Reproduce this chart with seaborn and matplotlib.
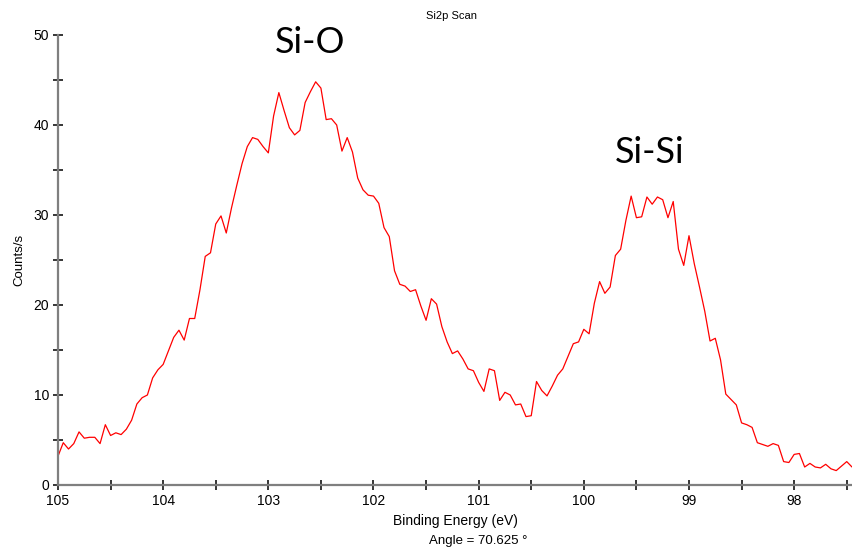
import numpy as np
import pandas as pd
import matplotlib
matplotlib.use("Agg")
import matplotlib.pyplot as plt
import seaborn as sns
from matplotlib.ticker import MultipleLocator

# Si 2p region scan: binding energy (eV) and count rate (counts/s)
binding_energy = [
    105.00, 104.95, 104.90, 104.85, 104.80, 104.75, 104.70, 104.65, 104.60, 104.55,
    104.50, 104.45, 104.40, 104.35, 104.30, 104.25, 104.20, 104.15, 104.10, 104.05,
    104.00, 103.95, 103.90, 103.85, 103.80, 103.75, 103.70, 103.65, 103.60, 103.55,
    103.50, 103.45, 103.40, 103.35, 103.30, 103.25, 103.20, 103.15, 103.10, 103.05,
    103.00, 102.95, 102.90, 102.85, 102.80, 102.75, 102.70, 102.65, 102.60, 102.55,
    102.50, 102.45, 102.40, 102.35, 102.30, 102.25, 102.20, 102.15, 102.10, 102.05,
    102.00, 101.95, 101.90, 101.85, 101.80, 101.75, 101.70, 101.65, 101.60, 101.55,
    101.50, 101.45, 101.40, 101.35, 101.30, 101.25, 101.20, 101.15, 101.10, 101.05,
    101.00, 100.95, 100.90, 100.85, 100.80, 100.75, 100.70, 100.65, 100.60, 100.55,
    100.50, 100.45, 100.40, 100.35, 100.30, 100.25, 100.20, 100.15, 100.10, 100.05,
    100.00, 99.95, 99.90, 99.85, 99.80, 99.75, 99.70, 99.65, 99.60, 99.55,
    99.50, 99.45, 99.40, 99.35, 99.30, 99.25, 99.20, 99.15, 99.10, 99.05,
    99.00, 98.95, 98.90, 98.85, 98.80, 98.75, 98.70, 98.65, 98.60, 98.55,
    98.50, 98.45, 98.40, 98.35, 98.30, 98.25, 98.20, 98.15, 98.10, 98.05,
    98.00, 97.95, 97.90, 97.85, 97.80, 97.75, 97.70, 97.65, 97.60, 97.55,
    97.50, 97.45,
]
counts = [
    3.2, 4.7, 4.0, 4.6, 5.9, 5.2, 5.3, 5.3, 4.6, 6.7,
    5.5, 5.8, 5.6, 6.2, 7.2, 9.0, 9.7, 10.0, 11.9, 12.8,
    13.4, 14.9, 16.4, 17.2, 16.1, 18.5, 18.5, 21.7, 25.4, 25.8,
    29.0, 29.9, 28.0, 30.8, 33.3, 35.7, 37.6, 38.6, 38.4, 37.6,
    36.9, 41.0, 43.6, 41.6, 39.7, 38.9, 39.4, 42.5, 43.7, 44.8,
    44.1, 40.6, 40.7, 40.0, 37.1, 38.6, 37.0, 34.1, 32.8, 32.2,
    32.1, 31.3, 28.6, 27.6, 23.8, 22.3, 22.1, 21.5, 21.7, 19.9,
    18.3, 20.7, 20.1, 17.6, 15.9, 14.6, 14.9, 14.0, 12.9, 12.7,
    11.4, 10.4, 12.9, 12.7, 9.4, 10.3, 10.0, 8.9, 9.0, 7.6,
    7.7, 11.5, 10.5, 9.9, 11.0, 12.2, 12.9, 14.3, 15.7, 15.9,
    17.3, 16.8, 20.2, 22.6, 21.3, 22.0, 25.5, 26.2, 29.4, 32.1,
    29.7, 29.8, 32.0, 31.2, 32.0, 31.7, 29.7, 31.5, 26.2, 24.4,
    27.7, 24.6, 22.0, 19.3, 16.0, 16.3, 13.9, 10.1, 9.5, 8.9,
    6.9, 6.7, 6.4, 4.7, 4.5, 4.3, 4.6, 4.4, 2.6, 2.5,
    3.4, 3.5, 2.0, 2.4, 2.0, 1.9, 2.3, 1.8, 1.6, 2.1,
    2.6, 2.0,
]

peak_labels = ["Si-O", "Si-Si"]
peak_label_pos = [(102.60, 49.2), (99.37, 36.9)]

x_ticks = [105, 104, 103, 102, 101, 100, 99, 98]
y_ticks = [0, 10, 20, 30, 40, 50]

df = pd.DataFrame({"Binding Energy (eV)": binding_energy, "Counts/s": counts})

sns.set_style("ticks")
plt.rcParams["font.family"] = ["Liberation Sans", "DejaVu Sans"]
plt.rcParams["text.color"] = "black"
plt.rcParams["axes.labelcolor"] = "black"
plt.rcParams["xtick.labelcolor"] = "black"
plt.rcParams["ytick.labelcolor"] = "black"

fig = plt.figure(figsize=(8.52, 5.5), dpi=100)
ax = fig.add_axes([58 / 852, 65 / 550, 794 / 852, 450 / 550])

sns.lineplot(data=df, x="Binding Energy (eV)", y="Counts/s", ax=ax,
             color="#ff0000", linewidth=0.9, estimator=None, sort=False)

ax.set_xlim(105, 97.45)
ax.set_ylim(0, 50)
ax.set_xticks(x_ticks)
ax.set_yticks(y_ticks)
ax.xaxis.set_minor_locator(MultipleLocator(0.5))
ax.yaxis.set_minor_locator(MultipleLocator(5))

for side in ["top", "right"]:
    ax.spines[side].set_visible(False)
for side in ["left", "bottom"]:
    ax.spines[side].set_color("#7f7f7f")
    ax.spines[side].set_linewidth(1.6)

ax.tick_params(which="major", direction="inout", length=7, width=1.1,
               color="black", labelsize=10, pad=3)
ax.tick_params(which="minor", direction="inout", length=7, width=1.1,
               color="black")

ax.set_xlabel("Binding Energy (eV)", fontsize=10, labelpad=4)
ax.set_ylabel("Counts/s", fontsize=9.5, labelpad=6)

fig.text(452 / 852, 1 - 16 / 550, "Si2p Scan", ha="center", va="center", fontsize=8)
fig.text(478 / 852, 1 - 541 / 550, "Angle = 70.625 °", ha="center", va="center",
         fontsize=9.5)

for label, (lx, ly) in zip(peak_labels, peak_label_pos):
    ax.text(lx, ly, label, ha="center", va="center", fontsize=26,
            family=["Lato", "DejaVu Sans"], color="black", clip_on=False)

fig.savefig("out.png", dpi=100)
